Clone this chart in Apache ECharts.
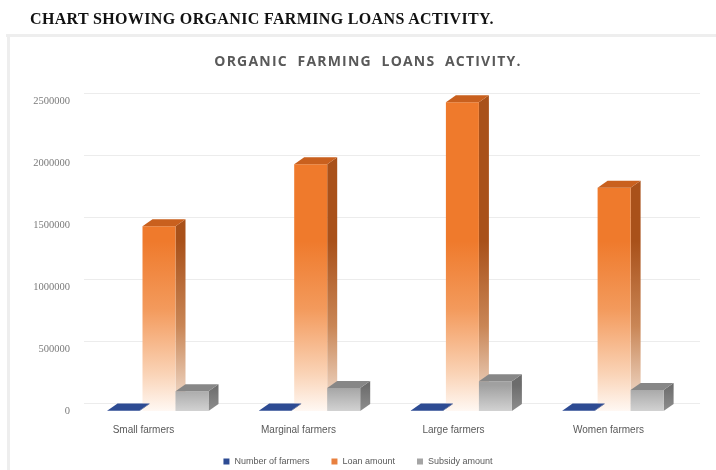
<!DOCTYPE html>
<html>
<head>
<meta charset="utf-8">
<title>Organic farming loans activity</title>
<script src="https://cdn.jsdelivr.net/npm/echarts@6/dist/echarts.min.js"></script>
<style>
  html, body { margin: 0; padding: 0; background: #ffffff; }
  #heading {
    position: absolute; left: 30px; top: 9px; margin: 0; white-space: nowrap;
    font-family: "Liberation Serif", "DejaVu Serif", serif;
    font-weight: bold; font-size: 16px; letter-spacing: 0.35px; color: #111;
    line-height: 20px;
  }
  #subtitle {
    position: absolute; left: 0; width: 736px; top: 51px; margin: 0; text-align: center;
    white-space: pre;
    font-family: "Open Sans", "Liberation Sans", sans-serif;
    font-weight: bold; font-size: 14px; letter-spacing: 1.2px; color: #595959;
    line-height: 20px;
  }
  #chart { position: absolute; left: 0; top: 0; width: 716px; height: 470px; }
</style>
</head>
<body>
<div id="chart"></div>
<p id="heading">CHART SHOWING ORGANIC FARMING LOANS ACTIVITY.</p>
<p id="subtitle">ORGANIC  FARMING  LOANS  ACTIVITY.</p>
<script>
// Farmer categories along the horizontal axis
const categories = ['Small farmers', 'Marginal farmers', 'Large farmers', 'Women farmers'];
// Series values
const numberOfFarmers = [620, 810, 240, 450];
const loanAmount = [1490000, 1990000, 2490000, 1800000];
const subsidyAmount = [160000, 185000, 240000, 170000];
// Value-axis ticks
const yTicks = [0, 500000, 1000000, 1500000, 2000000, 2500000];

const chart = echarts.init(document.getElementById('chart'), null, { renderer: 'canvas' });

const DX = 10, DY = 7;     // depth of the pseudo-3D boxes
const SKEW = -3.3;         // slight perspective drift per category

// Draws one bar as a box: side face, front face and top face.
function makeBox(cfg) {
  return function (params, api) {
    const i = api.value(0);
    const v = api.value(1);
    const base = api.coord([i, 0]);
    const top = api.coord([i, v]);
    const x0 = base[0] + cfg.offset + SKEW * i;
    const w = cfg.width;
    const yb = base[1];
    const yt = Math.min(top[1], yb - 0.5);
    const frontFill = {
      type: 'linear', x: 0, y: yb - cfg.fade, x2: 0, y2: yb, global: true,
      colorStops: cfg.front
    };
    const sideFill = {
      type: 'linear', x: 0, y: yb - cfg.fade, x2: 0, y2: yb, global: true,
      colorStops: cfg.side
    };
    return {
      type: 'group',
      children: [
        { type: 'polygon', shape: { points: [[x0 + w, yt], [x0 + w + DX, yt - DY], [x0 + w + DX, yb - DY], [x0 + w, yb]] },
          style: { fill: sideFill } },
        { type: 'rect', shape: { x: x0, y: yt, width: w, height: yb - yt },
          style: { fill: frontFill } },
        { type: 'polygon', shape: { points: [[x0, yt], [x0 + DX, yt - DY], [x0 + w + DX, yt - DY], [x0 + w, yt]] },
          style: { fill: cfg.top } }
      ]
    };
  };
}

function toData(values) {
  return values.map((v, i) => [i, v]);
}

const boxBlue = makeBox({
  offset: -36, width: 32, fade: 20, top: '#2d4b93',
  front: [{ offset: 0, color: '#2d4b93' }, { offset: 1, color: '#2d4b93' }],
  side: [{ offset: 0, color: '#1f3670' }, { offset: 1, color: '#1f3670' }]
});
const boxOrange = makeBox({
  offset: -1, width: 33, fade: 170, top: '#c9601e',
  front: [
    { offset: 0, color: '#ef7a2c' },
    { offset: 0.4, color: '#f39a5c' },
    { offset: 0.78, color: '#fad3b6' },
    { offset: 1, color: '#fff8f3' }
  ],
  side: [
    { offset: 0, color: '#a9511a' },
    { offset: 0.5, color: '#c98656' },
    { offset: 1, color: '#f5e5d9' }
  ]
});
const boxGrey = makeBox({
  offset: 32, width: 33, fade: 26, top: '#878787',
  front: [{ offset: 0, color: '#a0a0a0' }, { offset: 1, color: '#d2d2d2' }],
  side: [{ offset: 0, color: '#6c6c6c' }, { offset: 1, color: '#8e8e8e' }]
});

const option = {
  backgroundColor: '#ffffff',
  animation: false,
  legend: {
    top: 452, left: 'center',
    itemWidth: 6, itemHeight: 6, itemGap: 22,
    icon: 'rect',
    textStyle: { fontFamily: 'Liberation Sans, sans-serif', fontSize: 9, color: '#595959' },
    data: ['Number of farmers', 'Loan amount', 'Subsidy amount']
  },
  graphic: [
    { type: 'rect', shape: { x: 6, y: 34, width: 716, height: 3 }, style: { fill: '#eeeeee' }, silent: true },
    { type: 'rect', shape: { x: 7, y: 34, width: 3, height: 440 }, style: { fill: '#eeeeee' }, silent: true }
  ],
  grid: [
    { left: 66, right: 30, top: 101, bottom: 59 },
    { left: 84, right: 16, top: 93, bottom: 67 }
  ],
  xAxis: [
    {
      type: 'category', gridIndex: 0, data: categories,
      axisLine: { show: false }, axisTick: { show: false },
      axisLabel: { margin: 14, fontFamily: 'Liberation Sans, sans-serif', fontSize: 10, color: '#595959' }
    },
    { type: 'category', gridIndex: 1, data: categories, show: false }
  ],
  yAxis: [
    {
      type: 'value', gridIndex: 0, min: 0, max: 2500000, interval: 500000,
      axisLine: { show: false }, axisTick: { show: false }, splitLine: { show: false },
      axisLabel: {
        margin: -4, fontFamily: 'Liberation Serif, serif', fontSize: 10.5, color: '#7a7a7a',
        formatter: function (v) { return yTicks.indexOf(v) >= 0 ? String(v) : ''; }
      }
    },
    {
      type: 'value', gridIndex: 1, min: 0, max: 2500000, interval: 500000,
      axisLine: { show: false }, axisTick: { show: false }, axisLabel: { show: false },
      splitLine: { lineStyle: { color: '#ececec', width: 1 } }
    }
  ],
  series: [
    { name: 'Number of farmers', type: 'custom', xAxisIndex: 0, yAxisIndex: 0,
      itemStyle: { color: '#2d4b93' }, renderItem: boxBlue,
      encode: { x: 0, y: 1 }, data: toData(numberOfFarmers), z: 3 },
    { name: 'Loan amount', type: 'custom', xAxisIndex: 0, yAxisIndex: 0,
      itemStyle: { color: '#e8803f' }, renderItem: boxOrange,
      encode: { x: 0, y: 1 }, data: toData(loanAmount), z: 2 },
    { name: 'Subsidy amount', type: 'custom', xAxisIndex: 0, yAxisIndex: 0,
      itemStyle: { color: '#a5a5a5' }, renderItem: boxGrey,
      encode: { x: 0, y: 1 }, data: toData(subsidyAmount), z: 3 }
  ]
};

chart.setOption(option);
</script>
</body>
</html>
